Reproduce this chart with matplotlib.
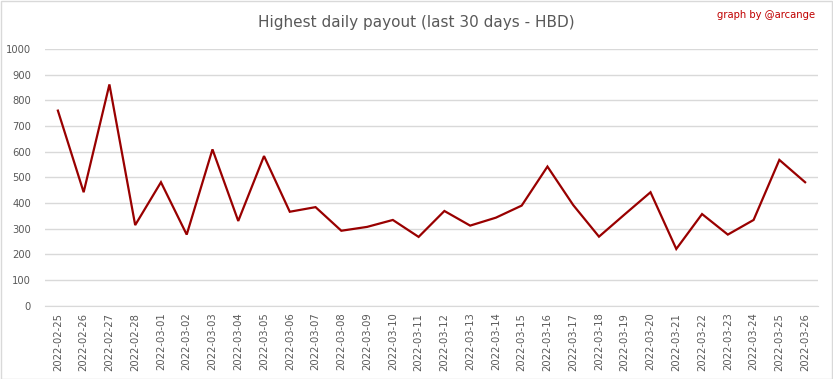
import matplotlib
matplotlib.use("Agg")
import matplotlib.pyplot as plt
from matplotlib.patches import Rectangle

dates = ["2022-02-25", "2022-02-26", "2022-02-27", "2022-02-28", "2022-03-01",
         "2022-03-02", "2022-03-03", "2022-03-04", "2022-03-05", "2022-03-06",
         "2022-03-07", "2022-03-08", "2022-03-09", "2022-03-10", "2022-03-11",
         "2022-03-12", "2022-03-13", "2022-03-14", "2022-03-15", "2022-03-16",
         "2022-03-17", "2022-03-18", "2022-03-19", "2022-03-20", "2022-03-21",
         "2022-03-22", "2022-03-23", "2022-03-24", "2022-03-25", "2022-03-26"]
payout = [760, 442, 862, 314, 481, 277, 609, 330, 583, 366,
          384, 292, 307, 334, 268, 369, 312, 343, 390, 542,
          392, 269, 356, 442, 221, 357, 277, 334, 568, 481]
yticks = list(range(0, 1001, 100))

W, H = 833, 379
fig = plt.figure(figsize=(W / 100, H / 100), dpi=100)
fig.patch.set_facecolor("white")
fig.patches.append(Rectangle((0.5 / W, 0.5 / H), 1 - 1.5 / W, 1 - 1.5 / H, transform=fig.transFigure,
                             fill=False, edgecolor="#d9d9d9", linewidth=1))

left, right, top, bottom = 45, 818, 49, 305.7
ax = fig.add_axes([left / W, 1 - bottom / H, (right - left) / W, (bottom - top) / H])
x = list(range(len(dates)))
ax.plot(x, payout, color="#990000", linewidth=1.6, solid_joinstyle="miter")
ax.set_xlim(-0.5, len(dates) - 0.5)
ax.set_ylim(0, 1000)
ax.set_yticks(yticks)
ax.set_yticklabels([str(v) for v in yticks])
ax.set_xticks(x)
ax.set_xticklabels(dates, rotation=90)
ax.grid(axis="y", color="#d9d9d9", linewidth=1)
ax.set_axisbelow(True)
for s in ["top", "right", "left"]:
    ax.spines[s].set_visible(False)
ax.spines["bottom"].set_color("#d9d9d9")
ax.tick_params(axis="both", length=0, colors="#595959", labelsize=7.2)
ax.tick_params(axis="y", pad=10)
ax.tick_params(axis="x", pad=5)

fig.text(0.5, 1 - 22 / H, "Highest daily payout (last 30 days - HBD)", ha="center", va="center",
         fontsize=11, color="#595959")
fig.text(815 / W, 1 - 15 / H, "graph by @arcange", ha="right", va="center",
         fontsize=7.2, color="#c00000")

fig.savefig("out.png", dpi=100)
